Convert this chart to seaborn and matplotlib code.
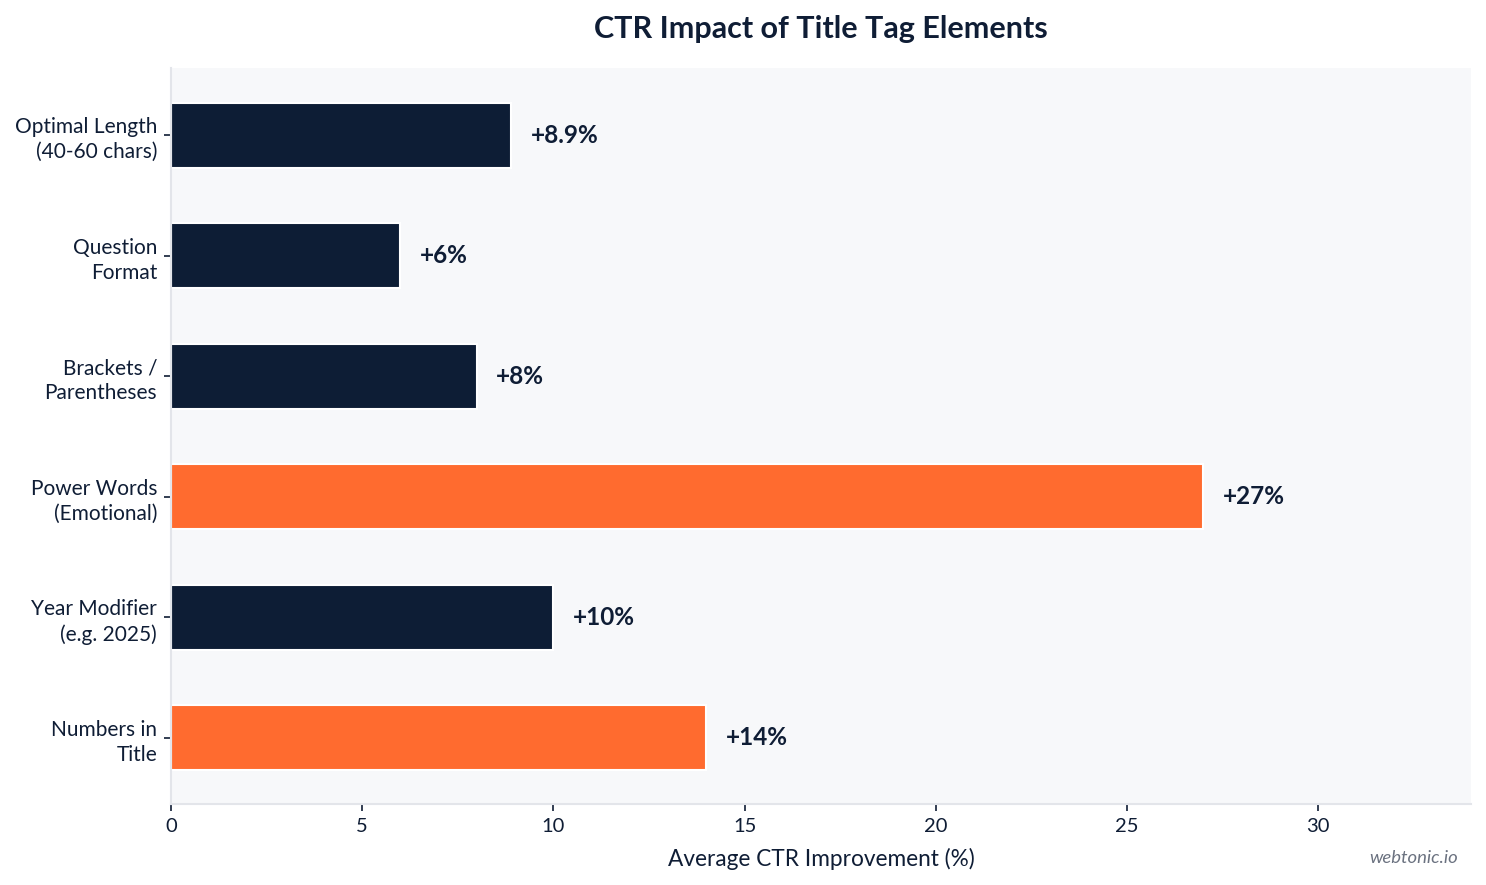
import matplotlib
matplotlib.use("Agg")
import matplotlib.pyplot as plt
import seaborn as sns
import pandas as pd

categories = ["Optimal Length\n(40-60 chars)", "Question\nFormat", "Brackets /\nParentheses",
              "Power Words\n(Emotional)", "Year Modifier\n(e.g. 2025)", "Numbers in\nTitle"]
values = [8.9, 6, 8, 27, 10, 14]
labels = ["+8.9%", "+6%", "+8%", "+27%", "+10%", "+14%"]
highlight = [False, False, False, True, False, True]

NAVY = "#0D1D35"
ORANGE = "#FF6B2F"
TEXT = "#0F1D35"

sns.set_theme(style="white")
plt.rcParams['font.family'] = ['Lato', 'DejaVu Sans']

df = pd.DataFrame({"cat": categories, "val": values,
                   "grp": ["hi" if h else "lo" for h in highlight]})

fig = plt.figure(figsize=(14.86, 8.85), dpi=100)
ax = fig.add_axes([0.1151, 0.0915, 0.8748, 0.8317])
ax.set_facecolor("#F7F8FA")

sns.barplot(data=df, x="val", y="cat", hue="grp", palette={"hi": ORANGE, "lo": NAVY},
            dodge=False, legend=False, width=0.54, edgecolor="white", linewidth=1.5, ax=ax,
            order=categories, saturation=1)

for i, (v, lab) in enumerate(zip(values, labels)):
    ax.text(v + 0.5, i, lab, va="center", ha="left", fontsize=17.5, fontweight="bold", color=TEXT)

ax.set_xlim(0, 34)
ax.set_ylim(5.55, -0.56)
ax.set_xticks([0, 5, 10, 15, 20, 25, 30])
ax.tick_params(axis="both", labelsize=14.5, colors=TEXT, length=5, width=1.2, direction="out",
               left=True, bottom=True, pad=5)
ax.tick_params(axis="y", pad=5, labelsize=15)
for lab in ax.get_xticklabels() + ax.get_yticklabels():
    lab.set_color(TEXT)
for lab in ax.get_yticklabels():
    lab.set_linespacing(1.3)
ax.set_ylabel("")
ax.set_xlabel("Average CTR Improvement (%)", fontsize=16.3, color=TEXT, labelpad=9)
for s in ["top", "right"]:
    ax.spines[s].set_visible(False)
for s in ["left", "bottom"]:
    ax.spines[s].set_color("#E3E5EA")
    ax.spines[s].set_linewidth(1.5)

fig.suptitle("CTR Impact of Title Tag Elements", fontsize=22, fontweight="bold", color=TEXT,
             x=0.5525, y=0.967, va="center")
fig.text(0.981, 0.031, "webtonic.io", ha="right", va="center", fontsize=13.3, style="italic",
         color="#6B7280")

fig.savefig("out.png", dpi=100)
